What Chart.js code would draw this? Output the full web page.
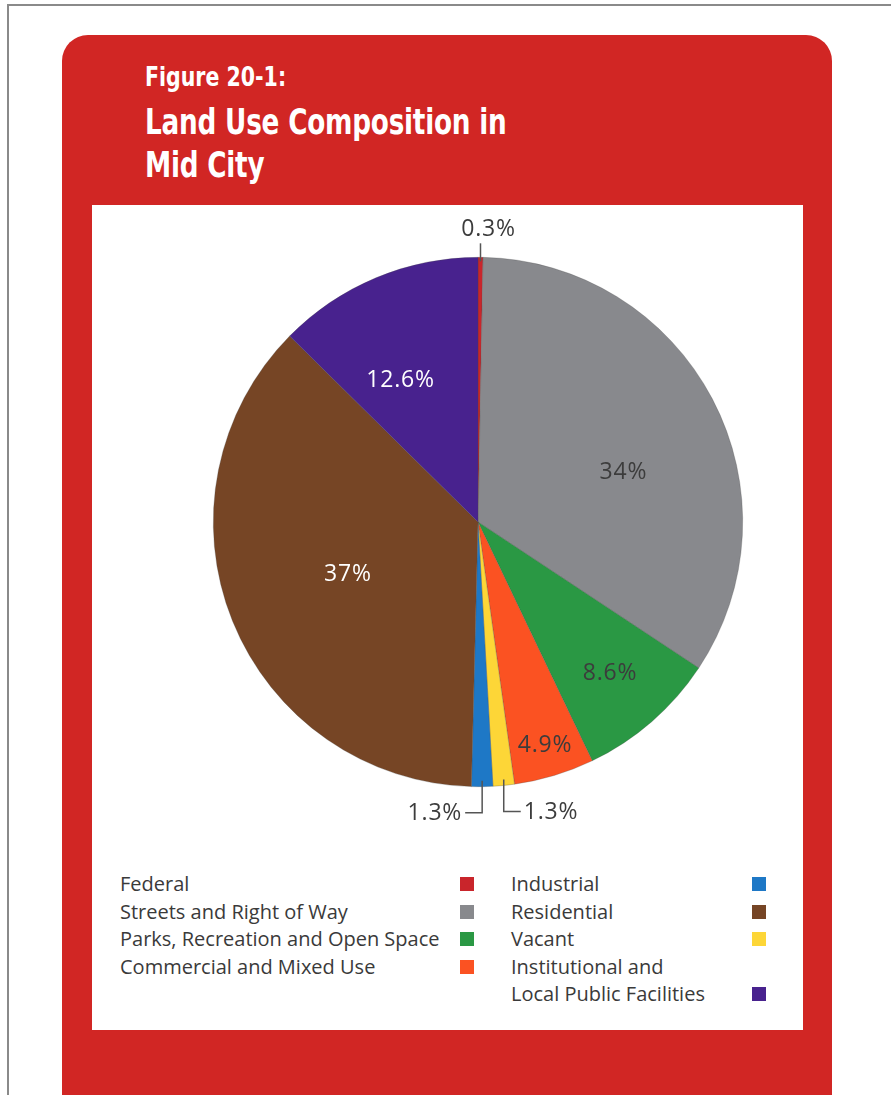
<!DOCTYPE html>
<html>
<head>
<meta charset="utf-8">
<script src="https://cdn.jsdelivr.net/npm/chart.js@4/dist/chart.umd.min.js"></script>
<style>
  html, body { margin: 0; padding: 0; background: #fff; }
  body { width: 891px; height: 1095px; position: relative; overflow: hidden; font-family: "Open Sans", "Noto Sans", sans-serif; }
  #frame { position: absolute; left: 7px; top: 4px; width: 900px; height: 1200px; border-left: 2px solid #8a8a8a; border-top: 2px solid #8a8a8a; }
  #card { position: absolute; left: 62px; top: 35px; width: 770px; height: 1100px; background: #d12624; border-radius: 26px 26px 0 0; }
  .tl { position: absolute; left: 145px; color: #fff; font-family: "DejaVu Sans", sans-serif; font-weight: bold; white-space: nowrap; transform-origin: 0 0; }
  .tl.fig { top: 63px; font-size: 27px; line-height: 27px; transform: scaleX(0.76); }
  .tl.main { font-size: 36px; line-height: 36px; transform: scaleX(0.73); letter-spacing: -0.3px; }
  #panel { position: absolute; left: 92px; top: 205px; width: 711px; height: 825px; background: #fff; }
  #pie { position: absolute; left: 0; top: 0; }
  .legend { position: absolute; top: 665px; font-size: 20px; line-height: 27.6px; color: #3a3a3a; }
  .legend .row { position: relative; white-space: nowrap; }
  .legend .sw { position: absolute; top: 7px; width: 14px; height: 14px; }
</style>
</head>
<body>
<div id="frame"></div>
<div id="card"></div>
<div class="tl fig">Figure 20-1:</div>
<div class="tl main" style="top:104px;">Land Use Composition in</div>
<div class="tl main" style="top:147px;">Mid City</div>
<div id="panel">
  <canvas id="pie" width="711" height="640"></canvas>
  <div class="legend" id="legLeft" style="left:28px;"></div>
  <div class="legend" id="legRight" style="left:419px;"></div>
</div>
<script>
// slices, clockwise from 12 o'clock
const categories = ['Federal', 'Streets and Right of Way', 'Parks, Recreation and Open Space', 'Commercial and Mixed Use', 'Vacant', 'Industrial', 'Residential', 'Institutional and Local Public Facilities'];
const shares = [0.3, 34, 8.6, 4.9, 1.3, 1.3, 37, 12.6];
const shareLabels = ['0.3%', '34%', '8.6%', '4.9%', '1.3%', '1.3%', '37%', '12.6%'];
const colors = ['#c9252b', '#88898d', '#2a9844', '#fb5222', '#fdd637', '#1e78c6', '#764525', '#48228e'];

// legend columns (category index)
const legendLeft = [0, 1, 2, 3];
const legendRight = [5, 6, 4, 7];

// how each percentage label is placed
const labelStyle = [
  { mode: 'top' },
  { mode: 'in', r: 0.58, turn: 9, color: '#3c3c3c' },
  { mode: 'in', r: 0.76, color: '#3c3c3c' },
  { mode: 'in', r: 0.88, color: '#3c3c3c' },
  { mode: 'right' },
  { mode: 'left' },
  { mode: 'in', r: 0.53, color: '#ffffff' },
  { mode: 'in', r: 0.61, turn: -6, color: '#ffffff' }
];

function buildLegend(el, idx) {
  idx.forEach(i => {
    const row = document.createElement('div');
    row.className = 'row';
    const name = categories[i];
    if (name.startsWith('Institutional')) {
      row.innerHTML = 'Institutional and<br>Local Public Facilities';
    } else {
      row.textContent = name;
    }
    const sw = document.createElement('span');
    sw.className = 'sw';
    sw.style.background = colors[i];
    sw.style.left = (el.id === 'legLeft' ? 340 : 241) + 'px';
    if (name.startsWith('Institutional')) sw.style.top = '34px';
    row.appendChild(sw);
    el.appendChild(row);
  });
}
buildLegend(document.getElementById('legLeft'), legendLeft);
buildLegend(document.getElementById('legRight'), legendRight);

const pieLabels = {
  id: 'pieLabels',
  afterDatasetsDraw(chart) {
    const ctx = chart.ctx;
    const arcs = chart.getDatasetMeta(0).data;
    ctx.save();
    ctx.font = '23px "Open Sans", "Noto Sans", sans-serif';
    ctx.letterSpacing = '0.8px';
    ctx.textBaseline = 'middle';
    arcs.forEach((arc, i) => {
      const st = labelStyle[i];
      const mid = (arc.startAngle + arc.endAngle) / 2;
      const cx = arc.x, cy = arc.y, R = arc.outerRadius;
      const txt = shareLabels[i];
      ctx.strokeStyle = '#555';
      ctx.lineWidth = 1.5;
      if (st.mode === 'in') {
        const a = mid + (st.turn || 0) * Math.PI / 180;
        ctx.fillStyle = st.color;
        ctx.textAlign = 'center';
        ctx.fillText(txt, cx + Math.cos(a) * R * st.r, cy + Math.sin(a) * R * st.r);
      } else if (st.mode === 'top') {
        const x = cx + Math.cos(mid) * R;
        const y = cy + Math.sin(mid) * R;
        ctx.beginPath();
        ctx.moveTo(x, y + 4);
        ctx.lineTo(x, y - 14);
        ctx.stroke();
        ctx.fillStyle = '#3c3c3c';
        ctx.textAlign = 'center';
        ctx.fillText(txt, x + 8, y - 28);
      } else {
        const x = cx + Math.cos(mid) * R;
        const y = cy + Math.sin(mid) * R;
        const dir = st.mode === 'left' ? -1 : 1;
        ctx.beginPath();
        ctx.moveTo(x, y - 6);
        ctx.lineTo(x, y + 26);
        ctx.lineTo(x + dir * 17, y + 26);
        ctx.stroke();
        ctx.fillStyle = '#3c3c3c';
        ctx.textAlign = dir < 0 ? 'right' : 'left';
        ctx.fillText(txt, x + dir * 20, y + 27);
      }
    });
    ctx.restore();
  }
};

new Chart(document.getElementById('pie'), {
  type: 'pie',
  data: {
    labels: categories,
    datasets: [{
      data: shares,
      backgroundColor: colors,
      borderColor: 'rgba(70,70,70,0.45)',
      borderWidth: 0.6
    }]
  },
  options: {
    responsive: false,
    animation: false,
    layout: { padding: { left: 61, right: 0, top: 52, bottom: 58 } },
    plugins: {
      legend: { display: false },
      tooltip: { enabled: false }
    }
  },
  plugins: [pieLabels]
});
</script>
</body>
</html>
